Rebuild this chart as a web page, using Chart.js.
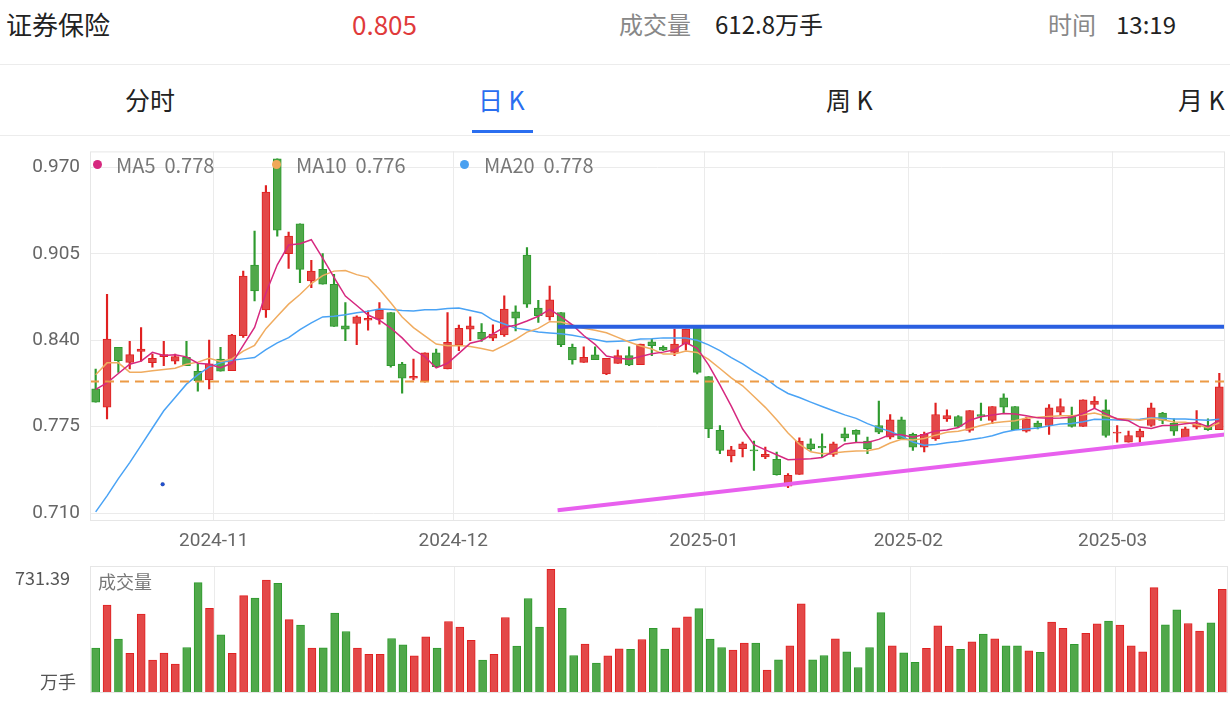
<!DOCTYPE html>
<html><head><meta charset="utf-8">
<script src="https://cdn.jsdelivr.net/npm/chart.js@4.4.1/dist/chart.umd.min.js"></script>
<style>
body{margin:0;width:1230px;height:702px;background:#fff;font-family:"Noto Sans CJK SC","Noto Sans",sans-serif;position:relative;overflow:hidden}
.t{position:absolute;white-space:nowrap;line-height:1}
#c1{position:absolute;left:0;top:130px}
#c2{position:absolute;left:0;top:560px}
.hr{position:absolute;left:0;width:1230px;height:1px;background:#ececec}
.d{position:absolute;width:9px;height:9px;border-radius:50%}
</style></head><body>
<canvas id="c1" width="1230" height="430"></canvas>
<canvas id="c2" width="1230" height="142"></canvas>
<div style="position:absolute;left:0;top:0;width:1230px;height:136px;background:#fff"></div>
<div class="t" style="left:6px;top:11px;font-size:26px;color:#222">证券保险</div>
<div class="t" style="left:352px;top:11px;font-size:26px;color:#e03a3a">0.805</div>
<div class="t" style="left:619px;top:12px;font-size:24px;color:#888">成交量</div>
<div class="t" style="left:715px;top:12px;font-size:24px;color:#222">612.8万手</div>
<div class="t" style="left:1048px;top:12px;font-size:24px;color:#888">时间</div>
<div class="t" style="left:1116px;top:12px;font-size:24px;color:#222">13:19</div>
<div class="hr" style="top:64px"></div>
<div class="t" style="left:125px;top:87px;font-size:25px;color:#222">分时</div>
<div class="t" style="left:478px;top:87px;font-size:25px;color:#2a6ef0">日 K</div>
<div style="position:absolute;left:472px;top:130px;width:61px;height:3px;background:#2a6ef0"></div>
<div class="t" style="left:826px;top:87px;font-size:25px;color:#222">周 K</div>
<div class="t" style="left:1178px;top:87px;font-size:25px;color:#222">月 K</div>
<div class="hr" style="top:135px"></div>
<div class="d" style="left:93px;top:160px;background:#d6287f"></div>
<div class="t" style="left:116px;top:155px;font-size:20px;color:#777">MA5&nbsp;&nbsp;0.778</div>
<div class="d" style="left:272px;top:160px;background:#f0a858"></div>
<div class="t" style="left:296px;top:155px;font-size:20px;color:#777">MA10&nbsp;&nbsp;0.776</div>
<div class="d" style="left:460px;top:160px;background:#4aa0f0"></div>
<div class="t" style="left:484px;top:155px;font-size:20px;color:#777">MA20&nbsp;&nbsp;0.778</div>
<div class="t" style="left:15px;top:568px;font-size:18px;color:#555">731.39</div>
<div class="t" style="left:40px;top:672px;font-size:18px;color:#555">万手</div>
<div class="t" style="left:98px;top:572px;font-size:18px;color:#777">成交量</div>
<script>
const opens=[.8034,.7897,.8347,.8234,.8316,.8232,.8277,.8242,.8272,.8167,.8102,.8259,.8172,.8434,.8966,.8629,.9765,.9051,.9276,.8846,.8933,.8821,.8509,.8526,.8551,.8559,.8609,.8221,.8114,.8097,.8306,.8184,.8366,.8484,.8459,.8416,.8441,.8614,.9041,.8641,.8576,.8609,.8346,.8234,.8291,.8147,.8226,.8284,.8216,.8389,.8346,.8309,.8371,.8496,.8126,.7722,.7530,.7585,.7577,.7522,.7505,.7302,.7392,.7622,.7602,.7542,.7697,.7722,.7642,.7759,.7672,.7802,.7692,.7597,.7659,.7809,.7827,.7722,.7842,.7797,.7967,.7902,.7717,.7777,.7759,.7859,.7827,.7752,.7917,.7877,.7702,.7634,.7672,.7759,.7852,.7777,.7659,.7747,.7759,.7727];
const closes=[.7934,.8409,.8247,.8292,.8334,.8264,.8292,.8277,.8209,.8097,.8222,.8167,.8439,.8883,.8771,.9515,.9228,.9183,.8933,.8921,.8821,.8504,.8484,.8576,.8564,.8626,.8209,.8114,.8129,.8306,.8201,.8384,.8489,.8509,.8409,.8446,.8634,.8566,.8671,.8584,.8704,.8366,.8252,.8272,.8254,.8264,.8284,.8214,.8371,.8359,.8326,.8371,.8484,.8159,.7734,.7572,.7577,.7622,.7567,.7542,.7390,.7385,.7642,.7585,.7590,.7622,.7665,.7692,.7585,.7709,.7802,.7659,.7597,.7692,.7842,.7834,.7752,.7872,.7827,.7902,.7897,.7727,.7809,.7747,.7892,.7902,.7752,.7952,.7942,.7684,.7709,.7684,.7717,.7892,.7797,.7717,.7734,.7772,.7727,.8050];
const highs=[.8184,.8746,.8347,.8391,.8496,.8297,.8391,.8297,.8391,.8222,.8401,.8347,.8444,.8921,.9221,.9563,.9765,.9213,.9276,.9001,.9051,.8896,.8684,.8584,.8621,.8684,.8609,.8234,.8259,.8306,.8334,.8609,.8514,.8576,.8526,.8516,.8734,.8659,.9096,.8701,.8808,.8609,.8371,.8351,.8351,.8264,.8326,.8351,.8371,.8409,.8359,.8484,.8484,.8496,.8126,.7759,.7602,.7634,.7642,.7597,.7560,.7397,.7667,.7659,.7697,.7634,.7742,.7727,.7672,.7942,.7842,.7822,.7702,.7709,.7927,.7877,.7834,.7872,.7927,.7902,.7997,.7902,.7822,.7792,.7917,.7959,.7897,.7952,.7977,.7952,.7759,.7717,.7734,.7927,.7859,.7809,.7747,.7872,.7809,.8151];
const lows=[.7934,.7809,.8159,.8184,.8242,.8197,.8209,.8222,.8209,.8017,.8034,.8167,.8172,.8421,.8696,.8571,.9183,.8941,.8833,.8796,.8821,.8504,.8396,.8366,.8476,.8521,.8197,.8002,.8102,.8084,.8197,.8184,.8322,.8397,.8391,.8396,.8429,.8471,.8646,.8534,.8551,.8351,.8221,.8234,.8254,.8142,.8226,.8209,.8216,.8284,.8321,.8284,.8326,.8147,.7667,.7547,.7485,.7522,.7422,.7510,.7385,.7292,.7392,.7572,.7522,.7527,.7642,.7634,.7547,.7697,.7659,.7659,.7572,.7560,.7647,.7789,.7747,.7709,.7797,.7772,.7852,.7727,.7709,.7734,.7692,.7834,.7747,.7752,.7892,.7672,.7634,.7634,.7634,.7752,.7772,.7684,.7659,.7734,.7722,.7727];
const volumes=[258,506,310,228,454,190,230,167,262,636,488,335,228,561,546,651,632,423,391,258,260,460,354,258,222,222,314,278,214,324,258,412,379,303,190,222,435,270,544,379,712,488,216,282,172,214,255,251,308,372,253,375,438,486,310,262,247,287,287,132,191,272,513,191,216,312,237,147,262,463,272,232,176,257,387,270,251,295,339,312,272,272,243,234,408,373,281,343,398,414,391,272,237,607,393,479,400,356,404,597];
const ma5Head=[.803,.808,.815,.822];
const ma10Head=[.814,.823,.823,.816,.816,.817,.818,.819,.822];
const ma20Head=[.711,.723,.736,.748,.761,.774,.787,.797,.807,.814,.820,.823,.825,.826,.827,.833,.838,.842,.848];
const monthPos=[10.4,31.5,53.6,71.6,89.6];
const monthLabels=['2024-11','2024-12','2025-01','2025-02','2025-03'];
const yTicks=[.710,.775,.840,.905,.970];
const resistance=[{x:40.7,y:.8501},{x:99.6,y:.8501}];
const refLine=[{x:-0.5,y:.8089},{x:99.6,y:.8089}];
const supportLine=[{x:40.7,y:.7122},{x:99.6,y:.7692}];
const markDot=[{x:5.9,y:.7317}];

const cats=closes.map((_,i)=>String(i+1));
function ma(n,head){return closes.map((_,i)=>{if(i<n-1)return head[i];let s=0;for(let k=i-n+1;k<=i;k++)s+=closes[k];return s/n;});}
const up=closes.map((c,i)=>c>=opens[i]);
const fill=up.map(u=>u?'#e34848':'#50a84a');
const edge=up.map(u=>u?'#e02020':'#2e9a2e');
const bodies=closes.map((c,i)=>{let a=Math.min(c,opens[i]),b=Math.max(c,opens[i]);if(b-a<0.0006)b=a+0.0006;return [a,b];});
const wicks=closes.map((c,i)=>[lows[i],highs[i]]);
function monthAxis(showLabels){return {type:'linear',min:-0.5,max:99.5,bounds:'data',offset:false,position:'bottom',
 afterBuildTicks:s=>{s.ticks=monthPos.map(v=>({value:v}));s.min=-0.5;s.max=99.5;},
 afterFit:s=>{s.height=showLabels?39:0;},
 grid:{color:'#ebebeb',drawTicks:false,offset:false},border:{display:false},
 ticks:{display:showLabels,color:'#666',font:{size:19,family:'Roboto'},padding:9,maxRotation:0,autoSkip:false,callback:(v,i)=>monthLabels[i]}};}
const frame={id:'frame',afterDraw(c){const a=c.chartArea,g=c.ctx;g.save();g.strokeStyle='#e6e6e6';g.lineWidth=1;g.strokeRect(a.left+0.5,a.top+0.5,a.right-a.left-1,a.bottom-a.top-1);g.restore();}};
new Chart(document.getElementById('c1'),{
 type:'bar',
 data:{labels:cats,datasets:[
  {type:'line',data:refLine,xAxisID:'x2',borderColor:'#ec9a45',borderWidth:2,borderDash:[9,6],pointRadius:0,order:-2},
  {type:'line',data:resistance,xAxisID:'x2',borderColor:'#2a5fe0',borderWidth:4,pointRadius:0,order:-3},
  {type:'line',data:supportLine,xAxisID:'x2',borderColor:'#e860ee',borderWidth:4,pointRadius:0,order:-3},
  {type:'scatter',data:markDot,xAxisID:'x2',backgroundColor:'#2250d0',pointRadius:2,order:-3},
  {type:'line',data:ma(5,ma5Head),borderColor:'#d6287f',borderWidth:1.5,pointRadius:0,tension:0,order:-1},
  {type:'line',data:ma(10,ma10Head),borderColor:'#f0ac60',borderWidth:1.5,pointRadius:0,tension:0,order:-1},
  {type:'line',data:ma(20,ma20Head),borderColor:'#4aa3f5',borderWidth:1.5,pointRadius:0,tension:0,order:-1},
  {data:bodies,backgroundColor:fill,borderColor:edge,borderWidth:1,borderSkipped:false,barThickness:8,grouped:false,order:1},
  {data:wicks,backgroundColor:edge,borderWidth:0,barThickness:1.5,grouped:false,order:2}
 ]},
 options:{animation:false,responsive:false,events:[],
  layout:{padding:{left:0,right:2,top:0,bottom:0}},
  plugins:{legend:{display:false},tooltip:{enabled:false}},
  scales:{
   x:{display:false,offset:true},
   x2:monthAxis(true),
   y:{min:.7041,max:.982,afterFit:s=>{s.width=90;},
    afterBuildTicks:s=>{s.ticks=yTicks.map(v=>({value:v}));},
    grid:{color:'#ebebeb',drawTicks:false},border:{display:false},
    ticks:{color:'#666',font:{size:19,family:'Roboto'},padding:10,callback:v=>v.toFixed(3)}}
  }},
 plugins:[frame]
});
new Chart(document.getElementById('c2'),{
 type:'bar',
 data:{labels:cats,datasets:[{data:volumes,backgroundColor:fill,borderColor:edge,borderWidth:1,borderSkipped:false,barThickness:8}]},
 options:{animation:false,responsive:false,events:[],
  layout:{padding:{left:90,right:2,top:6,bottom:9}},
  plugins:{legend:{display:false},tooltip:{enabled:false}},
  scales:{
   x:{display:false,offset:true},
   x2:monthAxis(false),
   y:{display:false,min:0,max:731.39}
  }},
 plugins:[frame]
});
</script>
</body></html>
